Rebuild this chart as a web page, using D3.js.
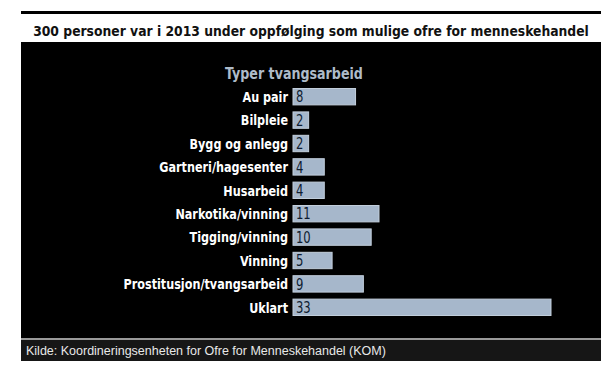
<!DOCTYPE html>
<html>
<head>
<meta charset="utf-8">
<script src="https://cdn.jsdelivr.net/npm/d3@7"></script>
<style>
  body { margin: 0; background: #fff; }
  svg { display: block; }
</style>
</head>
<body>
<div id="chart"></div>
<script>
const title = "300 personer var i 2013 under oppfølging som mulige ofre for menneskehandel";
const subtitle = "Typer tvangsarbeid";
const source = "Kilde: Koordineringsenheten for Ofre for Menneskehandel (KOM)";
const categories = ["Au pair", "Bilpleie", "Bygg og anlegg", "Gartneri/hagesenter", "Husarbeid",
                    "Narkotika/vinning", "Tigging/vinning", "Vinning", "Prostitusjon/tvangsarbeid", "Uklart"];
const values = [8, 2, 2, 4, 4, 11, 10, 5, 9, 33];

const W = 613, H = 370;
const condensed = "'Liberation Sans Narrow', 'DejaVu Sans Condensed', 'Roboto', sans-serif";
const squeeze = 0.86; // the original font is narrower than anything installed

const svg = d3.select('#chart').append('svg')
              .attr('width', W)
              .attr('height', H);

// squeeze a text horizontally so it is `w` wide, anchored at (x,y)
function fitWidth(sel, x, y, w) {
  let natural = sel.node().getComputedTextLength();
  sel.attr('x', 0).attr('y', 0)
     .attr('transform', `translate(${x},${y}) scale(${w/natural},1)`);
}

// top rule + title
svg.append('rect').attr('x', 21).attr('y', 11).attr('width', 580).attr('height', 3).attr('fill', '#000');
let titleText = svg.append('text')
   .attr('text-anchor', 'middle')
   .attr('font-family', condensed)
   .attr('font-weight', 'bold')
   .attr('font-size', 14.5)
   .attr('fill', '#111')
   .text(title);
fitWidth(titleText, 311, 36, 556);

// black panel
svg.append('rect').attr('x', 21).attr('y', 42).attr('width', 580).attr('height', 296).attr('fill', '#000');
// footer
svg.append('rect').attr('x', 21).attr('y', 338).attr('width', 580).attr('height', 2).attr('fill', '#9a9a9a');
svg.append('rect').attr('x', 21).attr('y', 340).attr('width', 580).attr('height', 21).attr('fill', '#161616');
svg.append('text')
   .attr('x', 26).attr('y', 355)
   .attr('font-family', "'Liberation Sans', Arial, sans-serif")
   .attr('font-size', 12.5)
   .attr('fill', '#e8e8e8')
   .text(source);

let subText = svg.append('text')
   .attr('text-anchor', 'middle')
   .attr('font-family', condensed)
   .attr('font-weight', 'bold')
   .attr('font-size', 16)
   .attr('fill', '#aebbc9')
   .text(subtitle);
fitWidth(subText, 294, 79, 138);

// scales
const x0 = 293;
const xScale = d3.scaleLinear().domain([0, 33]).range([x0, 551]);
const yScale = d3.scaleBand().domain(categories).range([85, 319]).paddingInner(0.3).paddingOuter(0.15);

const rows = svg.append('g').attr('class', 'bars')
  .selectAll('g')
  .data(categories.map((c, i) => ({cat: c, val: values[i]})))
  .join('g');

rows.append('rect')
    .attr('x', x0)
    .attr('y', d => yScale(d.cat))
    .attr('width', d => xScale(d.val) - x0)
    .attr('height', yScale.bandwidth())
    .attr('fill', '#a6b7cb')
    .attr('stroke', '#c3cfdc')
    .attr('stroke-width', 1);

rows.append('text')
    .attr('transform', d => `translate(288,${yScale(d.cat) + yScale.bandwidth()/2}) scale(${squeeze},1)`)
    .attr('dy', '0.36em')
    .attr('text-anchor', 'end')
    .attr('font-family', condensed)
    .attr('font-weight', 'bold')
    .attr('font-size', 14.5)
    .attr('fill', '#fff')
    .text(d => d.cat);

rows.append('text')
    .attr('transform', d => `translate(${x0 + 3},${yScale(d.cat) + yScale.bandwidth()/2}) scale(${squeeze},1)`)
    .attr('dy', '0.38em')
    .attr('font-family', condensed)
    .attr('font-size', 15)
    .attr('fill', '#0e1c30')
    .text(d => d.val);
</script>
</body>
</html>
